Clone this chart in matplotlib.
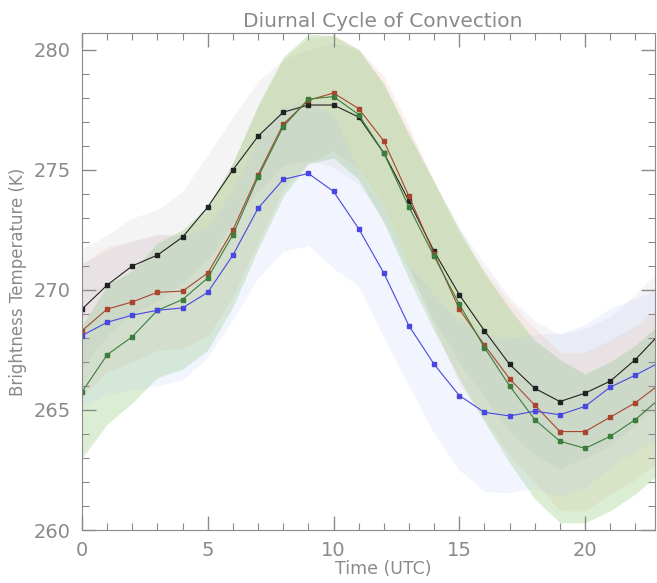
import matplotlib
matplotlib.use("Agg")
import matplotlib.pyplot as plt
from matplotlib.ticker import MultipleLocator
import numpy as np

# hour of day (UTC)
hours = list(range(24))

# mean brightness temperature per series (K)
tb_black = [269.2, 270.2, 271.0, 271.45, 272.2, 273.45, 275.0, 276.4, 277.4, 277.7, 277.7, 277.2,
            275.7, 273.7, 271.6, 269.8, 268.3, 266.9, 265.9, 265.35, 265.7, 266.2, 267.1, 268.2]
tb_red = [268.3, 269.2, 269.5, 269.9, 269.95, 270.7, 272.5, 274.8, 276.9, 277.9, 278.2, 277.55,
          276.2, 273.9, 271.5, 269.2, 267.7, 266.3, 265.2, 264.1, 264.1, 264.7, 265.3, 266.1]
tb_green = [265.75, 267.3, 268.05, 269.15, 269.6, 270.5, 272.3, 274.7, 276.8, 277.95, 278.05, 277.3,
            275.7, 273.45, 271.4, 269.4, 267.6, 266.0, 264.6, 263.7, 263.4, 263.9, 264.6, 265.5]
tb_blue = [268.1, 268.65, 268.95, 269.15, 269.25, 269.9, 271.45, 273.4, 274.6, 274.85, 274.1, 272.55,
           270.7, 268.5, 266.9, 265.6, 264.9, 264.75, 264.95, 264.8, 265.15, 265.95, 266.45, 267.0]

# spread (K) drawn as shaded band around each mean
sd_black = [2.5, 2.1, 2.0, 1.9, 1.9, 2.2, 2.2, 2.3, 2.2, 2.3, 2.6, 2.8,
            2.8, 2.9, 2.9, 2.8, 2.8, 2.8, 2.8, 2.8, 2.7, 2.7, 2.7, 2.7]
sd_red = [2.75, 2.6, 2.5, 2.4, 2.4, 2.6, 2.8, 2.8, 2.7, 2.6, 2.4, 2.5,
          2.7, 2.9, 3.0, 3.1, 3.1, 3.2, 3.2, 3.3, 3.3, 3.2, 3.2, 3.2]
sd_green = [2.75, 2.9, 2.75, 2.8, 2.9, 3.0, 3.0, 3.0, 2.9, 2.7, 2.55, 2.7,
            2.9, 3.0, 3.1, 3.1, 3.1, 3.2, 3.3, 3.4, 3.1, 3.1, 3.1, 3.1]
sd_blue = [3.0, 3.0, 3.1, 3.15, 3.0, 2.7, 2.7, 2.9, 3.0, 3.0, 3.2, 2.4,
           2.7, 2.5, 2.9, 3.1, 3.3, 3.2, 3.2, 3.4, 3.4, 3.3, 3.2, 3.1]

# line colour, band colour, band alpha
series = [
    (tb_black, sd_black, '#222222', '#cccccc', 0.2),
    (tb_red, sd_red, '#a8452e', '#f2b8a0', 0.2),
    (tb_green, sd_green, '#3b7d3b', '#88c870', 0.30),
    (tb_blue, sd_blue, '#4848e0', '#b4c4f4', 0.16),
]

grey = '#8a8a8a'
plt.rcParams['font.family'] = ['DejaVu Sans']

fig = plt.figure(figsize=(6.57, 5.83), dpi=100)
ax = fig.add_axes([82 / 657, 53 / 583, 573 / 657, 497 / 583])

x = np.array(hours)
for mean, sd, lc, fc, a in series:
    mean = np.array(mean)
    sd = np.array(sd)
    ax.fill_between(x, mean - sd, mean + sd, color=fc, alpha=a, linewidth=0)

for mean, sd, lc, fc, a in series:
    ax.plot(x, mean, color=lc, linewidth=0.8, marker='s', markersize=2.2)

ax.set_xlim(0, 22.78)
ax.set_ylim(260, 280.7)

ax.xaxis.set_major_locator(MultipleLocator(5))
ax.xaxis.set_minor_locator(MultipleLocator(1))
ax.yaxis.set_major_locator(MultipleLocator(5))
ax.yaxis.set_minor_locator(MultipleLocator(1))
ax.tick_params(which='both', direction='in', top=True, right=True, color=grey,
               labelcolor=grey, labelsize=14, pad=8)
ax.tick_params(which='major', length=10, width=1)
ax.tick_params(which='minor', length=5, width=0.8)
for s in ax.spines.values():
    s.set_color(grey)

ax.set_title("Diurnal Cycle of Convection", color=grey, fontsize=14.5, pad=4, x=0.525)
ax.set_xlabel("Time (UTC)", color=grey, fontsize=12.5, labelpad=0, x=0.525)
ax.set_ylabel("Brightness Temperature (K)", color=grey, fontsize=12, labelpad=5)

fig.savefig("out.png", dpi=100)
